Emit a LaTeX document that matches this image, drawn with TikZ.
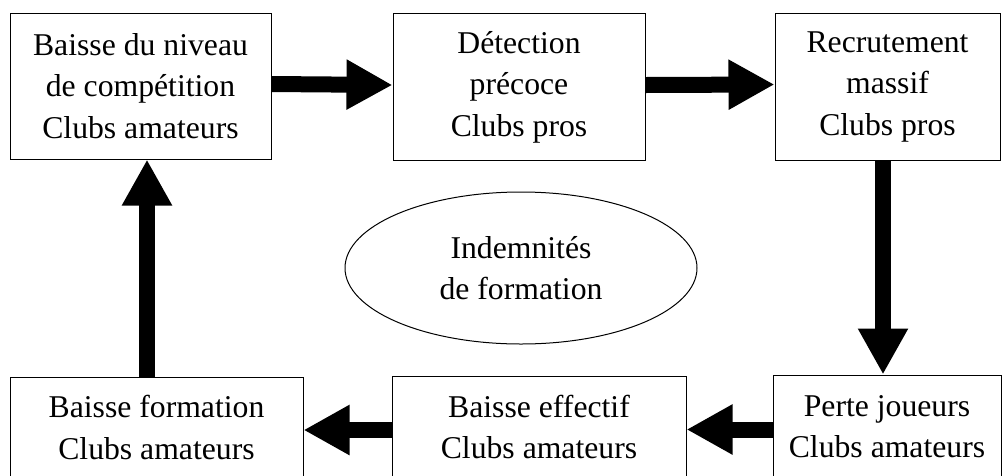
\documentclass[tikz,border=0pt]{standalone}
\usepackage{fontspec}
\setmainfont{Liberation Serif}
\usetikzlibrary{arrows.meta,shapes.geometric}
\begin{document}
\begin{tikzpicture}[x=1pt,y=-1pt,
  box/.style={draw,line width=1pt,align=center,inner sep=0pt,
    font=\fontsize{31.7}{41.5}\selectfont},
  oval/.style={box,ellipse},
  fat/.style={line width=16pt,-{Triangle[width=47pt,length=46pt]}}]
\useasboundingbox (0,0) rectangle (1002,475);
\clip (0,0) rectangle (1002,475);
\node[box,minimum width=261pt,minimum height=146pt] (a) at (140.5,86)
  {Baisse du niveau\\de compétition\\Clubs amateurs};
\node[box,minimum width=252pt,minimum height=147pt] (b) at (519,87)
  {Détection\\précoce\\Clubs pros};
\node[box,minimum width=225pt,minimum height=147pt] (c) at (887.5,86.5)
  {Recrutement\\massif\\Clubs pros};
\node[box,minimum width=228pt,minimum height=103pt] (d) at (887,426.5)
  {Perte joueurs\\Clubs amateurs};
\node[box,minimum width=294pt,minimum height=102pt] (e) at (539,427)
  {Baisse effectif\\Clubs amateurs};
\node[box,minimum width=293pt,minimum height=101pt] (f) at (156.5,427.5)
  {Baisse formation\\Clubs amateurs};
\node[oval,minimum width=352pt,minimum height=152pt] (i) at (521,268)
  {Indemnités\\de formation};
\draw[fat] ([yshift=2pt]a.east) -- ([yshift=2pt]b.west);
\draw[fat] ([yshift=2pt]b.east) -- ([yshift=2pt]c.west);
\draw[fat] ([xshift=-4.5pt]c.south) -- ([xshift=-4.5pt]c.south |- d.north);
\draw[fat] ([yshift=-3pt]d.west) -- ([yshift=-3pt]d.west -| e.east);
\draw[fat] ([yshift=-3pt]e.west) -- ([yshift=-3pt]e.west -| f.east);
\draw[fat] ([xshift=-9.5pt]f.north) -- ([xshift=-9.5pt]f.north |- a.south);
\end{tikzpicture}
\end{document}
